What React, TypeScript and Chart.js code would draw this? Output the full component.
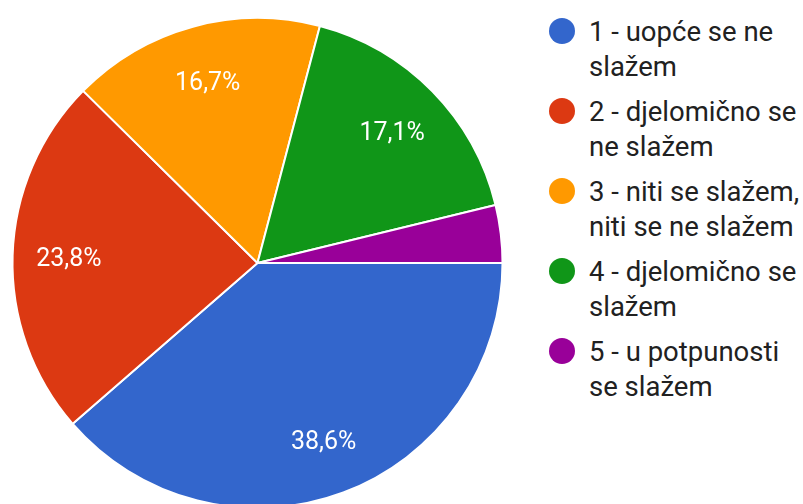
import React, { useEffect, useRef } from "react";
import { Chart, registerables } from "chart.js";

Chart.register(...registerables);

const categories: string[][] = [
  ["1 - uopće se ne", "slažem"],
  ["2 - djelomično se", "ne slažem"],
  ["3 - niti se slažem,", "niti se ne slažem"],
  ["4 - djelomično se", "slažem"],
  ["5 - u potpunosti", "se slažem"],
];
const values: number[] = [38.6, 23.8, 16.7, 17.1, 3.8];
const colors: string[] = ["#3366cc", "#dc3912", "#ff9900", "#109618", "#990099"];

const sliceLabels = {
  id: "sliceLabels",
  afterDatasetsDraw(chart: any) {
    const ctx = chart.ctx;
    const meta = chart.getDatasetMeta(0);
    const data = chart.data.datasets[0].data as number[];
    const total = data.reduce((a, b) => a + b, 0);
    ctx.save();
    ctx.fillStyle = "#ffffff";
    ctx.font = "25px Roboto";
    ctx.textAlign = "center";
    ctx.textBaseline = "alphabetic";
    meta.data.forEach((arc: any, i: number) => {
      const pct = (data[i] / total) * 100;
      if (pct < 5) return;
      const mid = (arc.startAngle + arc.endAngle) / 2;
      const r = arc.outerRadius * 0.77;
      const x = arc.x + Math.cos(mid) * r;
      const y = arc.y + Math.sin(mid) * r;
      ctx.fillText(pct.toFixed(1).replace(".", ",") + "%", x, y + 9);
    });
    ctx.restore();
  },
};

export default function App() {
  const ref = useRef<HTMLCanvasElement | null>(null);
  useEffect(() => {
    if (!ref.current) return;
    const chart = new Chart(ref.current, {
      type: "pie",
      data: {
        labels: categories.map((c) => c.join(" ")),
        datasets: [
          {
            data: values,
            backgroundColor: colors,
            borderColor: "#ffffff",
            borderWidth: 2,
          },
        ],
      },
      options: {
        responsive: false,
        animation: false,
        rotation: 90,
        layout: { padding: { left: 11.5, right: 11.5, top: 17, bottom: 17 } },
        plugins: { legend: { display: false }, tooltip: { enabled: false } },
      },
      plugins: [sliceLabels],
    });
    return () => chart.destroy();
  }, []);

  return (
    <div
      style={{
        position: "absolute",
        left: 0,
        top: 0,
        width: 803,
        height: 504,
        overflow: "hidden",
        background: "#ffffff",
      }}
    >
      <canvas
        ref={ref}
        width={515}
        height={526}
        style={{ position: "absolute", left: 0, top: 0, width: 515, height: 526 }}
      />
      {categories.map((lines, i) => (
        <div
          key={i}
          style={{
            position: "absolute",
            left: 549,
            top: 14 + i * 80,
            fontFamily: "Roboto",
            fontSize: 27.5,
            lineHeight: "35px",
            color: "#212121",
            whiteSpace: "nowrap",
          }}
        >
          <div
            style={{
              position: "absolute",
              left: 0,
              top: 4,
              width: 26,
              height: 26,
              borderRadius: "50%",
              background: colors[i],
            }}
          />
          <div style={{ marginLeft: 40 }}>
            {lines.map((l, j) => (
              <div key={j}>{l}</div>
            ))}
          </div>
        </div>
      ))}
    </div>
  );
}
